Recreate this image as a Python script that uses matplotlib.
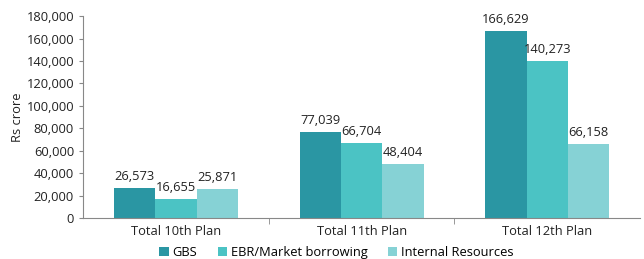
import numpy as np
import matplotlib.pyplot as plt
from matplotlib.ticker import FuncFormatter, FixedLocator

plans = ['Total 10th Plan', 'Total 11th Plan', 'Total 12th Plan']
gbs = [26573, 77039, 166629]
ebr = [16655, 66704, 140273]
internal = [25871, 48404, 66158]
series_names = ['GBS', 'EBR/Market borrowing', 'Internal Resources']
colors = ['#2a96a3', '#4bc3c4', '#86d2d5']

plt.rcParams['font.family'] = ['Open Sans', 'DejaVu Sans']
FS = 9.3

fig = plt.figure(figsize=(6.44, 2.59), dpi=100)
ax = fig.add_axes([0.129, 0.158, 0.865, 0.78])

x = np.arange(len(plans))
w = 2 / 9
for i, (vals, name, c) in enumerate(zip([gbs, ebr, internal], series_names, colors)):
    bars = ax.bar(x + (i - 1) * w, vals, width=w, color=c, label=name)
    for b, v in zip(bars, vals):
        ax.text(b.get_x() + b.get_width() / 2, v + 4500, f'{v:,}',
                ha='center', va='bottom', fontsize=FS, color='#222222')

ax.set_xlim(-0.5, 2.5)
ax.set_ylim(0, 180000)
ax.set_yticks(np.arange(0, 180001, 20000))
ax.yaxis.set_major_formatter(FuncFormatter(lambda v, p: f'{int(v):,}'))
ax.set_ylabel('Rs crore', fontsize=FS, color='#222222', labelpad=2)

ax.set_xticks(x)
ax.set_xticklabels(plans)
ax.xaxis.set_minor_locator(FixedLocator([0.5, 1.5]))
ax.tick_params(axis='x', which='major', length=0, pad=5, labelsize=FS, labelcolor='#222222')
ax.tick_params(axis='x', which='minor', length=4, color='#888888')
ax.tick_params(axis='y', length=3, color='#888888', labelsize=FS, labelcolor='#222222')

for s in ['top', 'right']:
    ax.spines[s].set_visible(False)
for s in ['left', 'bottom']:
    ax.spines[s].set_color('#888888')

ax.legend(loc='upper center', bbox_to_anchor=(0.455, -0.115), ncol=3, frameon=False,
          fontsize=FS, handlelength=0.7, handleheight=0.7, handletextpad=0.3,
          columnspacing=1.6, borderaxespad=0)

fig.savefig('out.png', dpi=100)
